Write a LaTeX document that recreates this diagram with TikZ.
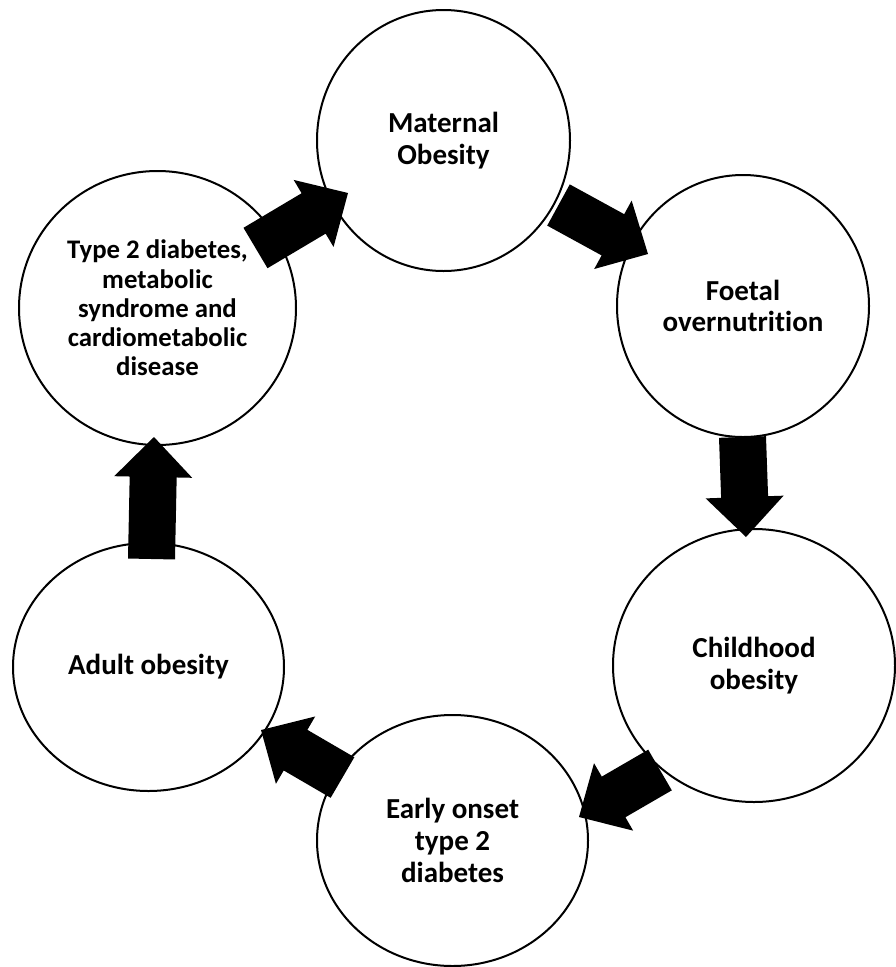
\documentclass[tikz,border=0pt]{standalone}
\usepackage{fontspec}
\setmainfont{Carlito}[Ligatures=NoCommon]
\usetikzlibrary{shapes.geometric,calc}
\tikzset{
  stage/.style={draw, ellipse, line width=2pt, inner sep=0pt, align=center,
    font={\fontsize{29}{31.7}\selectfont\bfseries}},
  smalltext/.style={font={\fontsize{26.8}{29.3}\selectfont\bfseries}},
  blockarrow/.style={fill=black},
}
\newcommand\bigarrow[2]{%
  \coordinate (tmpm) at ($(#2)!40pt!(#1)$);
  \fill[blockarrow] ($(#1)!23.5pt!90:(#2)$) -- ($(tmpm)!23.5pt!-90:(#1)$)
    -- ($(tmpm)!39pt!-90:(#1)$) -- (#2) -- ($(tmpm)!39pt!90:(#1)$)
    -- ($(tmpm)!23.5pt!90:(#1)$) -- ($(#1)!23.5pt!-90:(#2)$) -- cycle;
}
\begin{document}
\begin{tikzpicture}[x=1pt,y=-1pt]
\useasboundingbox (0,0) rectangle (896,967);
\node[stage, smalltext, minimum width=277pt, minimum height=274pt] (t2) at (157.5,308)
  {Type 2 diabetes,\\metabolic\\syndrome and\\cardiometabolic\\disease};
\node[stage, minimum width=253pt, minimum height=261pt] (mat) at (443.5,140.5) {Maternal\\Obesity};
\node[stage, minimum width=252pt, minimum height=262pt] (foe) at (743,306) {Foetal\\overnutrition};
\node[stage, minimum width=282pt, minimum height=273pt] (chi) at (754,665.5) {Childhood\\obesity};
\node[stage, minimum width=271pt, minimum height=251pt] (ear) at (452.5,840.5) {Early onset\\type 2\\diabetes};
\node[stage, minimum width=271pt, minimum height=248pt] (adu) at (148.5,667) {Adult obesity};

\coordinate (a1s) at (255.5,248);   \coordinate (a1e) at (348,193);
\coordinate (a2s) at (558.5,205);   \coordinate (a2e) at (648,254);
\coordinate (a3s) at (742.5,437);   \coordinate (a3e) at (746,537);
\coordinate (a4s) at (660,770);     \coordinate (a4e) at (579,817);
\coordinate (a5s) at (342.5,777.5); \coordinate (a5e) at (261,730);
\coordinate (a6s) at (151.5,559);   \coordinate (a6e) at (154,437);

\bigarrow{a1s}{a1e}
\bigarrow{a2s}{a2e}
\bigarrow{a3s}{a3e}
\bigarrow{a4s}{a4e}
\bigarrow{a5s}{a5e}
\bigarrow{a6s}{a6e}
\end{tikzpicture}
\end{document}
